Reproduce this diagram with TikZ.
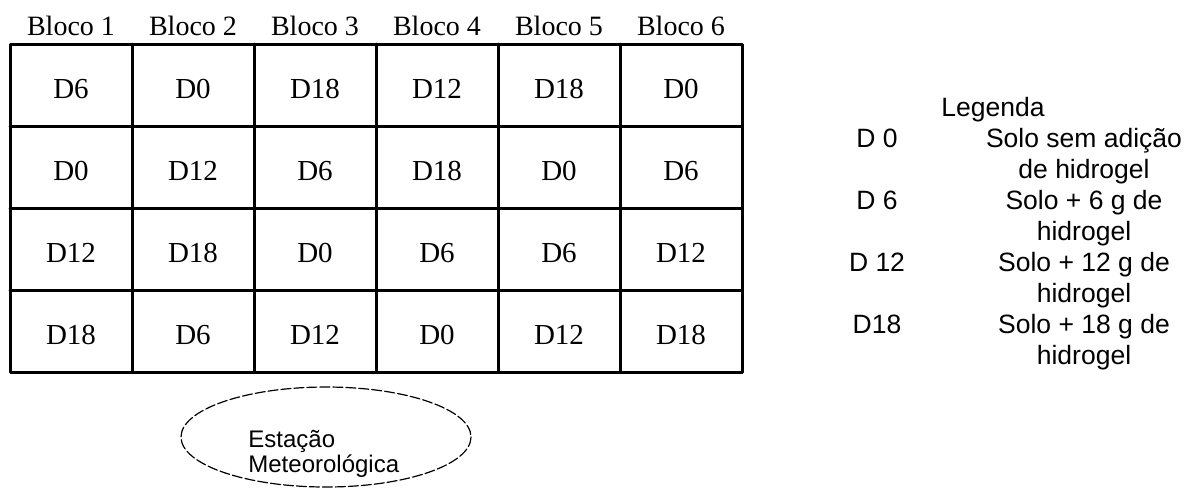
\documentclass[tikz,border=0pt]{standalone}
\usepackage{fontspec}
\setmainfont{Liberation Serif}
\newfontfamily\legfont{Liberation Sans}

\tikzset{
  gridline/.style={line width=1.5pt},
  header/.style={anchor=base, inner sep=0pt, font=\fontsize{14}{17}\selectfont},
  cell/.style={anchor=base, inner sep=0pt, font=\fontsize{14.5}{17}\selectfont},
  legtext/.style={anchor=base, inner sep=0pt, font=\legfont\fontsize{13.25}{15.5}\selectfont},
  stationtext/.style={anchor=base west, inner sep=0pt, font=\legfont\fontsize{12}{13}\selectfont},
}

\begin{document}
\begin{tikzpicture}[x=0.5pt, y=-0.5pt, line cap=round, line join=round]
\useasboundingbox (0,0) rectangle (1192,489);

% blocos
\draw[gridline] (10,44) rectangle (742,372);
\foreach \i in {1,...,5}
  \draw[gridline] (10+122*\i,44) -- (10+122*\i,372);
\foreach \j in {1,2,3}
  \draw[gridline] (10,44+82*\j) -- (742,44+82*\j);

\foreach \i in {1,...,6}
  \node[header] (bloco\i) at (122*\i-51,35) {Bloco \i};

% doses por parcela
\foreach \row [count=\r] in {{6,0,18,12,18,0},{0,12,6,18,0,6},{12,18,0,6,6,12},{18,6,12,0,12,18}}
  \foreach \d [count=\c] in \row
    \node[cell] (c\r\c) at (122*\c-51, 82*\r+16) {D\d};

% legenda
\node[legtext] (legenda) at (993,116) {Legenda};
\foreach \dose/\linea/\lineb [count=\n] in {D 0/Solo sem adição/de hidrogel,
    D 6/Solo + 6 g de/hidrogel, D 12/Solo + 12 g de/hidrogel, D18/Solo + 18 g de/hidrogel}
{
  \node[legtext] (dose\n) at (877,85+62*\n) {\dose};
  \node[legtext] (desca\n) at (1084,85+62*\n) {\linea};
  \node[legtext] (descb\n) at (1084,116+62*\n) {\lineb};
}

% estacao
\draw[line width=0.6pt, dash pattern=on 5pt off 1.5pt] (326,437) ellipse [x radius=145, y radius=50];
\node[stationtext] (estacao) at (248,447) {Estação};
\node[stationtext] (meteo) at (248,472) {Meteorológica};

\end{tikzpicture}
\end{document}
